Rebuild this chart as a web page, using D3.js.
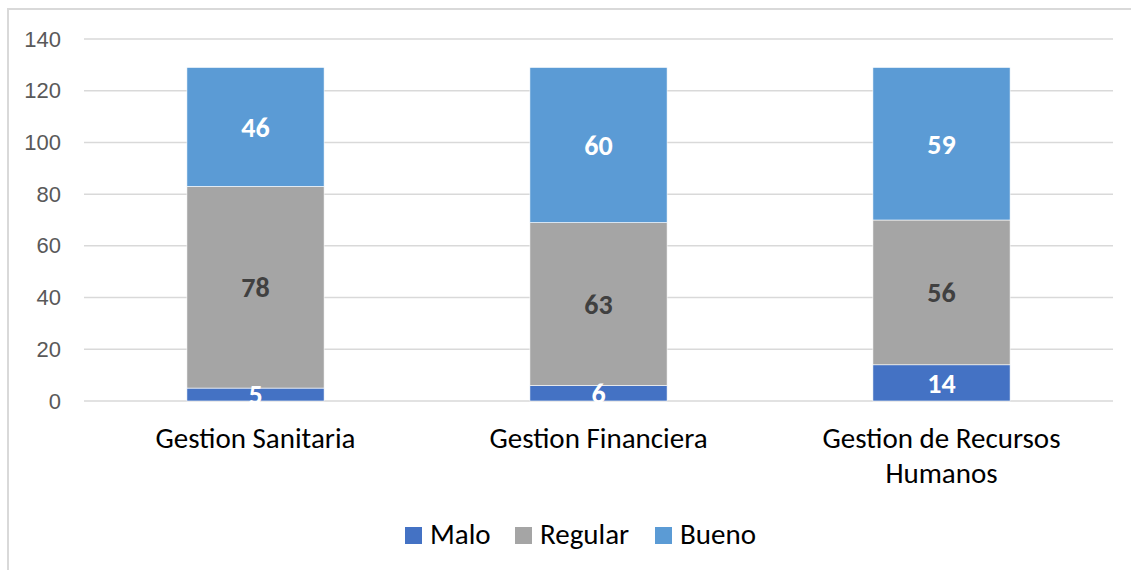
<!DOCTYPE html>
<html>
<head>
<meta charset="utf-8">
<script src="https://cdn.jsdelivr.net/npm/d3@7"></script>
<style>
  body { margin: 0; background: #fff; }
  svg { display: block; font-family: Carlito, Calibri, "Open Sans", sans-serif; }
</style>
</head>
<body>
<div id="chart"></div>
<script>
// categories and series
var categories = ["Gestion Sanitaria", "Gestion Financiera", "Gestion de Recursos Humanos"];
var seriesNames = ["Malo", "Regular", "Bueno"];
var malo = [5, 6, 14];
var regular = [78, 63, 56];
var bueno = [46, 60, 59];
var yTicks = [0, 20, 40, 60, 80, 100, 120, 140];

var colors = { Malo: "#4472C4", Regular: "#A5A5A5", Bueno: "#5B9BD5" };
var labelColors = { Malo: "#ffffff", Regular: "#404040", Bueno: "#ffffff" };

var width = 1131, height = 570;
var margin = { top: 39, right: 18, bottom: 169, left: 84 };
var plotW = width - margin.left - margin.right;
var plotH = height - margin.top - margin.bottom;

// build table for the stack
var table = categories.map(function (c, i) {
    return { cat: c, Malo: malo[i], Regular: regular[i], Bueno: bueno[i] };
});

var svg = d3.select("#chart").append("svg")
    .attr("width", width)
    .attr("height", height);

// chart frame
svg.append("rect")
    .attr("x", 8).attr("y", 9)
    .attr("width", 1200).attr("height", 700)
    .attr("fill", "none")
    .attr("stroke", "#d9d9d9")
    .attr("stroke-width", 2);

var g = svg.append("g")
    .attr("transform", "translate(" + margin.left + "," + margin.top + ")");

var x = d3.scaleBand()
    .domain(categories)
    .range([0, plotW])
    .paddingInner(0.6)
    .paddingOuter(0.3);

var y = d3.scaleLinear()
    .domain([0, 140])
    .range([plotH, 0]);

// gridlines
g.append("g")
    .selectAll("line")
    .data(yTicks)
    .enter().append("line")
    .attr("x1", 0).attr("x2", plotW)
    .attr("y1", function (d) { return y(d); })
    .attr("y2", function (d) { return y(d); })
    .attr("stroke", "#d9d9d9")
    .attr("stroke-width", 1.5);

// y axis labels
var yAxis = g.append("g")
    .call(d3.axisLeft(y).tickValues(yTicks).tickSize(0).tickPadding(23));
yAxis.select(".domain").remove();
yAxis.selectAll("text")
    .attr("fill", "#595959")
    .style("font-size", "22px");

var stack = d3.stack().keys(seriesNames);
var layers = stack(table);

var layer = g.selectAll(".layer")
    .data(layers)
    .enter().append("g")
    .attr("class", "layer")
    .attr("fill", function (d) { return colors[d.key]; });

layer.selectAll("rect")
    .data(function (d) { return d; })
    .enter().append("rect")
    .attr("x", function (d) { return x(d.data.cat); })
    .attr("y", function (d) { return y(d[1]); })
    .attr("width", x.bandwidth())
    .attr("height", function (d) { return y(d[0]) - y(d[1]); })
    .attr("stroke", "#ffffff")
    .attr("stroke-width", 0.6);

// value labels
layers.forEach(function (l) {
    g.append("g").selectAll("text")
        .data(l)
        .enter().append("text")
        .attr("x", function (d) { return x(d.data.cat) + x.bandwidth() / 2; })
        .attr("y", function (d) { return (y(d[0]) + y(d[1])) / 2; })
        .attr("dy", "0.35em")
        .attr("text-anchor", "middle")
        .attr("fill", labelColors[l.key])
        .style("font-size", "28px")
        .style("font-weight", "bold")
        .text(function (d) { return d[1] - d[0]; });
});

// category labels
var xAxis = g.append("g")
    .attr("transform", "translate(0," + plotH + ")");
var catWrap = {
    "Gestion Sanitaria": ["Gestion Sanitaria"],
    "Gestion Financiera": ["Gestion Financiera"],
    "Gestion de Recursos Humanos": ["Gestion de Recursos", "Humanos"]
};
categories.forEach(function (c) {
    var t = xAxis.append("text")
        .attr("x", x(c) + x.bandwidth() / 2)
        .attr("y", 47)
        .attr("text-anchor", "middle")
        .attr("fill", "#000")
        .style("font-size", "29px");
    catWrap[c].forEach(function (line, i) {
        t.append("tspan")
            .attr("x", x(c) + x.bandwidth() / 2)
            .attr("dy", i === 0 ? 0 : 35)
            .text(line);
    });
});

// legend
var legendX = [405, 515, 655];
var legend = svg.append("g");
seriesNames.forEach(function (s, i) {
    legend.append("rect")
        .attr("x", legendX[i]).attr("y", 527)
        .attr("width", 17).attr("height", 17)
        .attr("fill", colors[s]);
    legend.append("text")
        .attr("x", legendX[i] + 25).attr("y", 544)
        .attr("fill", "#000")
        .style("font-size", "29px")
        .text(s);
});
</script>
</body>
</html>
